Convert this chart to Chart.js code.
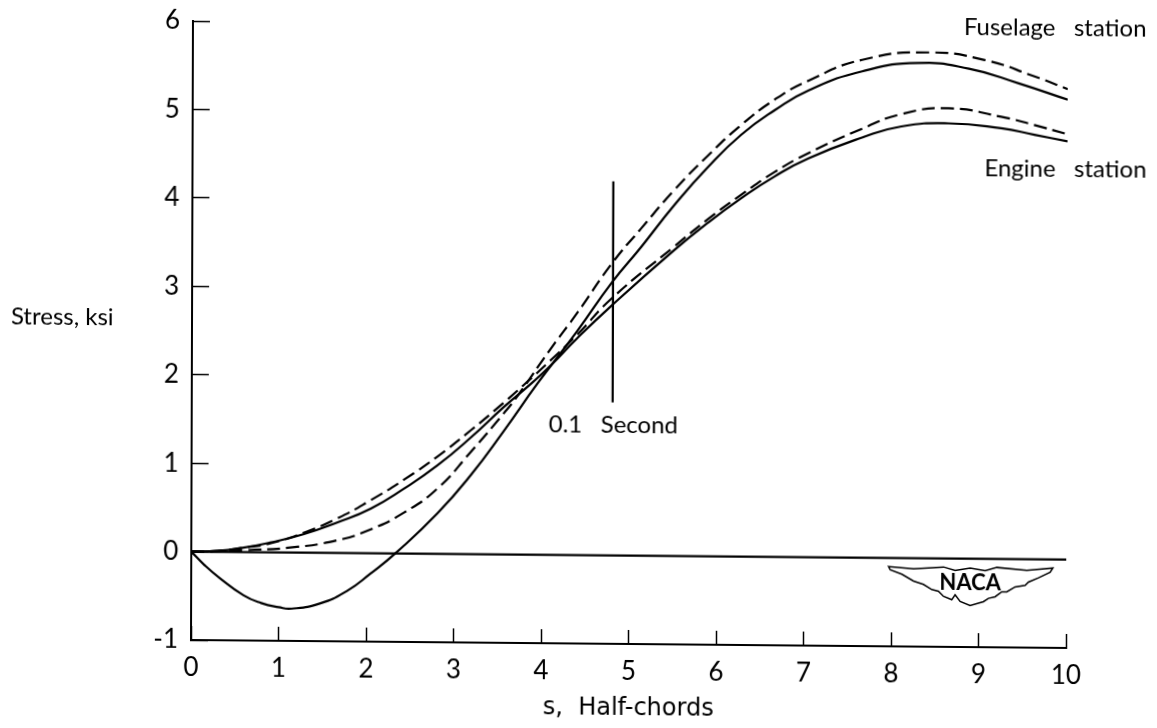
<!DOCTYPE html>
<html>
<head>
<meta charset="utf-8">
<style>
html,body{margin:0;padding:0;background:#fff;overflow:hidden}
#c{display:block;transform-origin:191px 640px;transform:matrix(1,0.0091,-0.0032,1,0,0)}
</style>
<script src="https://cdn.jsdelivr.net/npm/chart.js@4/dist/chart.umd.min.js"></script>
</head>
<body>
<canvas id="c" width="1157" height="728"></canvas>
<script>
const xTicks = [0,1,2,3,4,5,6,7,8,9,10];
const yTicks = [-1,0,1,2,3,4,5,6];

const fuselageSolidS = [0,0.15,0.33,0.6,0.8,1.0,1.15,1.47,1.78,2.05,2.35,2.81,3.19,3.57,3.95,4.4,4.8,5.13,5.51,5.89,6.27,6.65,7.04,7.65,8.29,8.87,9.44,10];
const fuselageSolidV = [0,-0.15,-0.30,-0.49,-0.575,-0.62,-0.635,-0.575,-0.43,-0.23,0.017,0.455,0.891,1.40,1.935,2.53,3.09,3.49,3.97,4.40,4.77,5.05,5.28,5.50,5.60,5.54,5.38,5.20];

const fuselageDashedS = [0,0.3,0.6,1.13,1.665,2.05,2.43,2.81,3.19,3.57,3.72,4.1,4.4,4.8,5.13,5.51,5.89,6.27,6.65,7.04,7.65,8.41,9.05,9.62,10];
const fuselageDashedV = [0,0.005,0.02,0.055,0.142,0.27,0.463,0.737,1.155,1.60,1.79,2.33,2.735,3.305,3.70,4.14,4.53,4.88,5.17,5.39,5.63,5.72,5.64,5.46,5.32];

const engineSolidS = [0,0.3,0.6,0.9,1.28,1.665,2.05,2.43,2.81,3.19,3.57,3.88,4.1,4.4,4.8,5.51,5.89,6.27,6.65,7.04,7.65,8.10,8.64,9.24,9.62,10];
const engineSolidV = [0,0.01,0.05,0.11,0.207,0.343,0.504,0.734,1.0,1.318,1.67,1.936,2.14,2.45,2.83,3.46,3.77,4.05,4.30,4.51,4.75,4.88,4.92,4.87,4.80,4.73];

const engineDashedS = [0,0.3,0.6,0.9,1.3,1.665,2.05,2.43,2.81,3.19,3.57,3.84,4.1,4.4,4.8,5.51,5.89,6.27,6.65,7.04,7.65,8.10,8.64,9.24,9.62,10];
const engineDashedV = [0,0.01,0.05,0.10,0.23,0.388,0.60,0.836,1.10,1.40,1.72,1.96,2.20,2.49,2.91,3.50,3.81,4.09,4.35,4.57,4.85,5.02,5.09,5.00,4.91,4.81];

const baselineS = [0,10];
const baselineV = [0,0];
const markerS = [4.81,4.81];
const markerV = [4.23,1.73];

const textLabels = ["Fuselage   station","Engine   station","0.1   Second","Stress, ksi"];
const textS = [8.81,9.05,4.08,-2.07];
const textV = [6.01,4.41,1.475,2.64];

const pair = (s,v) => s.map((x,i)=>({x:x,y:v[i]}));
const curve = (label,s,v,dash) => ({
  label, data:pair(s,v), borderColor:'#000', borderWidth:2.2, borderDash:dash,
  pointRadius:0, tension:0.5, fill:false
});

const FONT = 'Lato, "Open Sans", sans-serif';

const annotations = {
  id:'annotations',
  afterDraw(chart){
    const ctx = chart.ctx, xs = chart.scales.x, ys = chart.scales.y;
    ctx.save();
    ctx.fillStyle = '#000';
    ctx.font = '24px ' + FONT;
    ctx.textBaseline = 'middle';
    ctx.textAlign = 'left';
    textLabels.forEach((t,i)=>ctx.fillText(t, xs.getPixelForValue(textS[i]), ys.getPixelForValue(textV[i])));
    // NACA wing emblem
    const px = [85,160,250,285,330,375,410,500,578,570,535,505,495,465,440,425,405,385,370,330,300,285,275,250,235,215,190,160,125,90];
    const py = [82,88,82,92,85,92,82,90,82,95,112,125,135,140,155,155,170,175,185,197,185,165,180,170,155,150,135,125,105,92];
    ctx.beginPath();
    px.forEach((p,i)=>{
      const X = 860 + p/3, Y = 540 + py[i]/3 - 7.2;
      i ? ctx.lineTo(X,Y) : ctx.moveTo(X,Y);
    });
    ctx.closePath();
    ctx.lineWidth = 1.5;
    ctx.strokeStyle = '#000';
    ctx.stroke();
    ctx.font = 'bold 22px ' + FONT;
    ctx.textAlign = 'center';
    ctx.fillText('NACA', 970, 576);
    ctx.restore();
  }
};

new Chart(document.getElementById('c'), {
  type:'line',
  data:{datasets:[
    curve('Fuselage station, solid', fuselageSolidS, fuselageSolidV, []),
    curve('Fuselage station, dashed', fuselageDashedS, fuselageDashedV, [13,6]),
    curve('Engine station, solid', engineSolidS, engineSolidV, []),
    curve('Engine station, dashed', engineDashedS, engineDashedV, [13,6]),
    curve('Baseline', baselineS, baselineV, []),
    curve('0.1 Second', markerS, markerV, [])
  ]},
  plugins:[annotations],
  options:{
    responsive:false, animation:false, devicePixelRatio:1,
    layout:{padding:{left:0,top:21,right:91,bottom:0}},
    plugins:{legend:{display:false},tooltip:{enabled:false},title:{display:false}},
    scales:{
      x:{
        type:'linear', min:0, max:10,
        afterFit(s){ s.height = 88; s.paddingLeft = 0; s.paddingRight = 0; },
        afterBuildTicks(s){ s.ticks = xTicks.map(v=>({value:v})); },
        grid:{drawOnChartArea:false, drawTicks:true, tickLength:-14, tickWidth:1.5, tickColor:'#000'},
        border:{display:true, color:'#000', width:2},
        ticks:{color:'#000', font:{family:FONT,size:26}, padding:26, maxRotation:0, autoSkip:false},
        title:{display:true, text:'s,  Half-chords', color:'#000', font:{family:'"DejaVu Sans"',size:24}, padding:{top:0,bottom:9}}
      },
      y:{
        type:'linear', min:-1, max:6,
        afterFit(s){ s.width = 191; s.paddingTop = 0; s.paddingBottom = 0; },
        afterBuildTicks(s){ s.ticks = yTicks.map(v=>({value:v})); },
        grid:{drawOnChartArea:false, drawTicks:true, tickLength:-17, tickWidth:1.5, tickColor:'#000'},
        border:{display:true, color:'#000', width:2},
        ticks:{color:'#000', font:{family:FONT,size:26}, padding:30, autoSkip:false}
      }
    }
  }
});
</script>
</body>
</html>
